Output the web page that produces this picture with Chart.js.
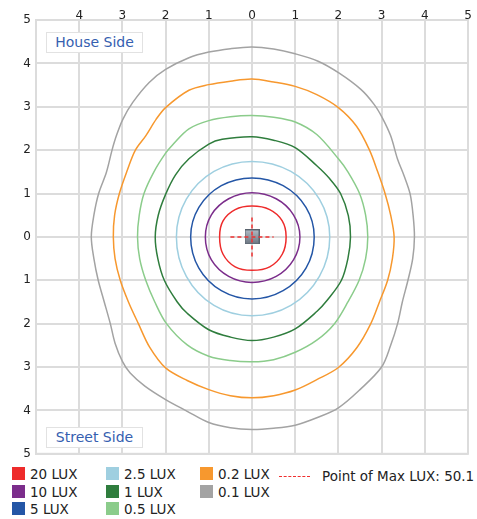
<!DOCTYPE html>
<html>
<head>
<meta charset="utf-8">
<script src="https://cdn.jsdelivr.net/npm/chart.js@4.4.1/dist/chart.umd.min.js"></script>
<style>
  body { margin: 0; background: #fff; font-family: "DejaVu Sans", sans-serif; }
  #wrap { position: relative; width: 477px; height: 519px; overflow: hidden; }
  canvas { position: absolute; left: 0; top: 0; }
  .side { position: absolute; left: 46px; width: 95px; height: 19px; border: 1px solid #e2e2e2; background: #fff;
          color: #3560b0; font-size: 14px; line-height: 19px; text-align: center; white-space: nowrap; }
  .lg { position: absolute; font-size: 13.5px; color: #222; white-space: nowrap; line-height: 14px; }
  .sw { position: absolute; width: 13px; height: 13px; }
</style>
</head>
<body>
<div id="wrap">
  <canvas id="c" width="477" height="466"></canvas>
  <div class="side" style="top:32px">House Side</div>
  <div class="side" style="top:427px">Street Side</div>
  <div id="legend"></div>
</div>
<script>
// iso-lux contours, [x, y] in metres (house side = +y), counter-clockwise from the top
const lux20 = [[0,0.71],[-0.39,0.63],[-0.67,0.37],[-0.75,0],[-0.67,-0.40],[-0.39,-0.69],[0,-0.77],
  [0.41,-0.69],[0.70,-0.40],[0.79,0],[0.70,0.37],[0.41,0.63]];
const lux10 = [[0,1.02],[-0.54,0.88],[-0.94,0.51],[-1.08,0],[-0.94,-0.53],[-0.54,-0.91],[0,-1.05],
  [0.56,-0.91],[0.96,-0.53],[1.11,0],[0.96,0.51],[0.56,0.88]];
const lux5 = [[0,1.36],[-0.71,1.18],[-1.23,0.68],[-1.42,0],[-1.23,-0.72],[-0.71,-1.24],[0,-1.43],
  [0.72,-1.24],[1.25,-0.72],[1.44,0],[1.25,0.68],[0.72,1.18]];
const lux2_5 = [[0,1.74],[-0.88,1.51],[-1.52,0.87],[-1.75,0],[-1.52,-0.91],[-0.88,-1.58],[0,-1.82],
  [0.90,-1.58],[1.56,-0.91],[1.80,0],[1.56,0.87],[0.90,1.51]];
const lux1 = [[0,2.31],[-0.69,2.25],[-1,2.14],[-1.46,1.80],[-1.77,1.43],[-2.0,0.98],[-2.17,0.5],[-2.24,0],
  [-2.18,-0.5],[-2.03,-1],[-1.73,-1.5],[-1.5,-1.76],[-1,-2.14],[-0.5,-2.31],[0,-2.39],[0.5,-2.31],[1,-2.12],
  [1.5,-1.72],[1.75,-1.45],[2.07,-1],[2.22,-0.5],[2.28,0],[2.23,0.49],[2.05,1],[1.80,1.34],[1.5,1.64],
  [1,2.06],[0.5,2.23]];
const lux0_5 = [[0,2.80],[-0.5,2.77],[-1,2.68],[-1.46,2.49],[-1.84,2.12],[-2.0,1.93],[-2.27,1.5],[-2.50,1.0],
  [-2.61,0.5],[-2.65,0],[-2.60,-0.5],[-2.46,-1],[-2.25,-1.5],[-1.98,-2],[-1.5,-2.49],[-1,-2.75],[-0.5,-2.85],
  [0,-2.88],[0.5,-2.83],[1,-2.66],[1.5,-2.38],[1.91,-2],[2.22,-1.5],[2.48,-1],[2.63,-0.5],[2.68,0],[2.63,0.5],
  [2.49,1],[2.22,1.5],[2.0,1.80],[1.5,2.36],[1,2.65],[0.5,2.76]];
const lux0_2 = [[0,3.64],[-0.5,3.59],[-1,3.51],[-1.46,3.38],[-2.0,2.98],[-2.22,2.71],[-2.46,2.33],[-2.70,2.0],
  [-2.90,1.5],[-3.07,1.0],[-3.18,0.5],[-3.21,0],[-3.17,-0.5],[-3.05,-1],[-2.86,-1.5],[-2.63,-2],[-2.37,-2.54],
  [-2.0,-3.02],[-1.5,-3.31],[-1,-3.52],[-0.5,-3.66],[0,-3.71],[0.5,-3.66],[1,-3.53],[1.5,-3.29],[2,-3.01],
  [2.43,-2.55],[2.75,-2],[2.95,-1.5],[3.14,-1],[3.25,-0.5],[3.29,0],[3.21,0.5],[3.08,1],[2.91,1.5],[2.72,2],
  [2.42,2.55],[2,2.98],[1.5,3.28],[1,3.47],[0.5,3.57]];
const lux0_1 = [[0,4.38],[-0.5,4.34],[-1,4.26],[-1.46,4.13],[-2.0,3.86],[-2.38,3.56],[-2.76,3.10],[-2.99,2.71],
  [-3.14,2.33],[-3.24,2.0],[-3.37,1.49],[-3.55,1.0],[-3.66,0.5],[-3.72,0],[-3.66,-0.5],[-3.56,-1],[-3.42,-1.5],
  [-3.28,-2],[-3.17,-2.45],[-3.0,-2.87],[-2.82,-3.14],[-2.48,-3.44],[-2.0,-3.75],[-1.5,-4.02],[-1.0,-4.28],
  [-0.5,-4.40],[0,-4.44],[0.5,-4.41],[1,-4.34],[1.5,-4.17],[2,-3.94],[2.5,-3.52],[3,-3.0],[3.21,-2.5],
  [3.37,-2],[3.48,-1.5],[3.61,-1],[3.72,-0.5],[3.76,0],[3.73,0.49],[3.66,0.99],[3.52,1.41],[3.37,1.79],
  [3.21,2.33],[3.02,2.74],[2.83,3.05],[2.52,3.40],[2.01,3.78],[1.53,4.05],[1,4.22],[0.5,4.33]];

const levels = ["20 LUX", "10 LUX", "5 LUX", "2.5 LUX", "1 LUX", "0.5 LUX", "0.2 LUX", "0.1 LUX"];
const contours = [lux20, lux10, lux5, lux2_5, lux1, lux0_5, lux0_2, lux0_1];
const colors = ["#ee2b2b", "#7b2d8b", "#2456a6", "#9fcfe0", "#2f7d3d", "#8bcc8b", "#f7982e", "#a3a3a3"];
const maxPoint = [0, 0];
const maxLux = 50.1;
const crossX = [[-0.5, 0], [0.5, 0]];
const crossY = [[0, 0.45], [0, -0.45]];
const ticks = [-5, -4, -3, -2, -1, 0, 1, 2, 3, 4, 5];

const pts = a => a.map(p => ({ x: p[0], y: p[1] }));
const GRID = "#dcdcdc";

const datasets = contours.map((c, i) => ({
  label: levels[i],
  data: pts(c),
  closedLoop: true,
  showLine: true,
  borderColor: colors[i],
  borderWidth: 1.5,
  pointRadius: 0,
  tension: 0.33,
  fill: false,
}));
[crossX, crossY].forEach(seg => datasets.push({
  data: pts(seg), showLine: true, borderColor: "#f03030", borderWidth: 1.5,
  borderDash: [4, 3], pointRadius: 0,
}));

// luminaire marker: small shaded square
const mark = document.createElement("canvas");
mark.width = 15; mark.height = 15;
{
  const g = mark.getContext("2d");
  const grad = g.createLinearGradient(0, 0, 0, 15);
  grad.addColorStop(0, "#b3bcc6");
  grad.addColorStop(1, "#69737f");
  g.fillStyle = grad;
  g.fillRect(0, 0, 15, 15);
  g.strokeStyle = "#5a636e";
  g.lineWidth = 1;
  g.strokeRect(0.5, 0.5, 14, 14);
}
datasets.push({ data: pts([maxPoint]), pointStyle: mark, pointRadius: 8 });

const absTick = v => (v === -5 ? "" : Math.abs(v));
const tickFont = { family: "DejaVu Sans", size: 12 };

// make the contour lines close on themselves like a radar line does
const loopLines = {
  id: "loopLines",
  afterDatasetsUpdate(chart) {
    chart.data.datasets.forEach((ds, i) => {
      if (!ds.closedLoop) return;
      const line = chart.getDatasetMeta(i).dataset;
      line._loop = true;
      line._fullLoop = true;
      line._segments = undefined;
      line._path = undefined;
      line._pointsUpdated = false;
    });
  },
};

const frame = {
  id: "frame",
  beforeDatasetsDraw(chart) {
    const { ctx, chartArea: a } = chart;
    ctx.save();
    ctx.strokeStyle = GRID;
    ctx.lineWidth = 2;
    ctx.strokeRect(a.left, a.top, a.right - a.left, a.bottom - a.top);
    ctx.restore();
  },
};

new Chart(document.getElementById("c"), {
  type: "scatter",
  data: { datasets },
  options: {
    responsive: false,
    animation: false,
    layout: { padding: { right: 6, bottom: 10, left: 0, top: 0 } },
    plugins: { legend: { display: false }, tooltip: { enabled: false } },
    scales: {
      x: {
        type: "linear", position: "top", min: -5, max: 5,
        afterBuildTicks: s => { s.ticks = ticks.map(v => ({ value: v })); },
        afterFit: s => { s.height = 20; },
        ticks: { callback: absTick, color: "#222", font: tickFont, padding: -3, maxRotation: 0 },
        grid: { color: GRID, lineWidth: 2, drawTicks: false },
        border: { color: GRID, width: 2 },
      },
      y: {
        type: "linear", min: -5, max: 5,
        afterBuildTicks: s => { s.ticks = ticks.map(v => ({ value: v })); },
        afterFit: s => { s.width = 36; },
        ticks: { callback: v => Math.abs(v), color: "#222", font: tickFont, padding: 5 },
        grid: { color: GRID, lineWidth: 2, drawTicks: false },
        border: { color: GRID, width: 2 },
      },
    },
  },
  plugins: [loopLines, frame],
});

// legend below the plot
const legend = document.getElementById("legend");
const cols = [12, 106, 200];
levels.forEach((name, i) => {
  const col = Math.floor(i / 3), row = i % 3;
  const x = cols[col], y = 467 + row * 17.5;
  legend.insertAdjacentHTML("beforeend",
    `<div class="sw" style="left:${x}px;top:${y}px;background:${colors[i]}"></div>` +
    `<div class="lg" style="left:${x + 18}px;top:${y}px">${name}</div>`);
});
legend.insertAdjacentHTML("beforeend",
  `<div style="position:absolute;left:279px;top:476px;width:31px;border-top:1.5px dashed #f03030"></div>` +
  `<div class="lg" style="left:322px;top:469px">Point of Max LUX: ${maxLux}</div>`);
</script>
</body>
</html>
